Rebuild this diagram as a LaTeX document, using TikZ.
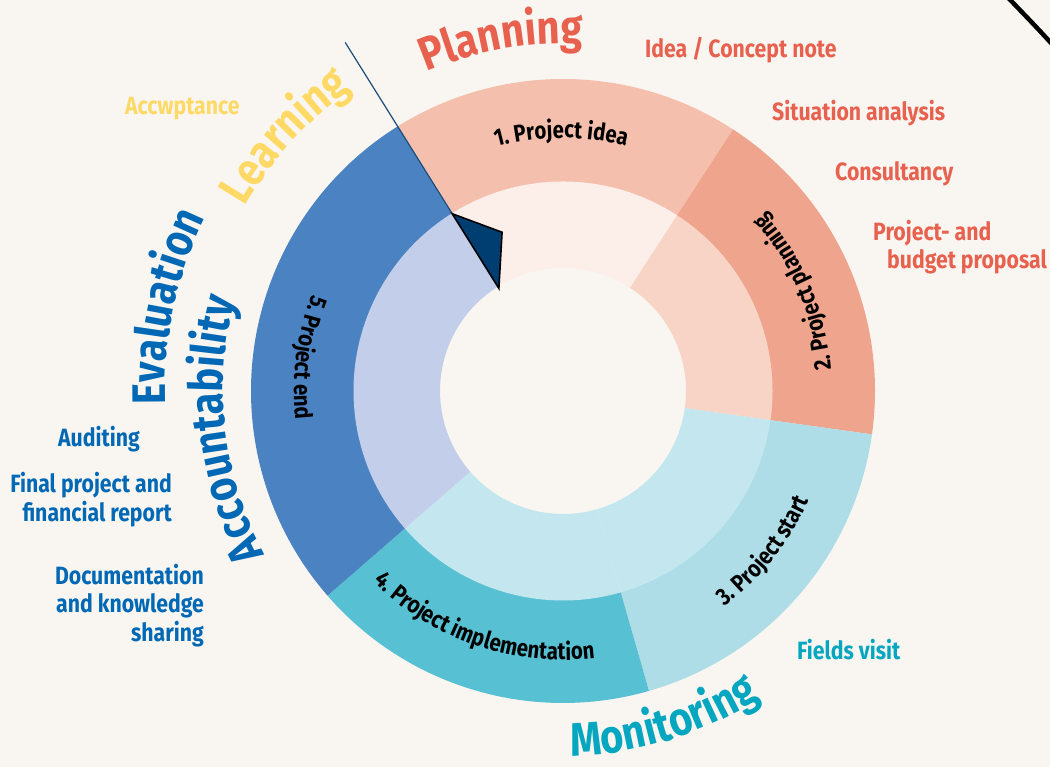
\documentclass[tikz,border=0pt]{standalone}
\usepackage{fontspec}
\setmainfont{Fira Sans}[FakeStretch=0.85]
\usetikzlibrary{decorations.text}
\definecolor{bg}{HTML}{F9F6F1}
\definecolor{oneO}{HTML}{F4C0AD}
\definecolor{oneI}{HTML}{FCEEE9}
\definecolor{twoO}{HTML}{EFA58D}
\definecolor{twoI}{HTML}{F8D4C6}
\definecolor{threeO}{HTML}{AEDDE7}
\definecolor{threeI}{HTML}{C4E6EE}
\definecolor{fourO}{HTML}{57C1D3}
\definecolor{fourI}{HTML}{C4E6EE}
\definecolor{fiveO}{HTML}{4B83C2}
\definecolor{fiveI}{HTML}{C2CEEA}
\definecolor{plancol}{HTML}{E8614F}
\definecolor{learncol}{HTML}{FFD966}
\definecolor{evalcol}{HTML}{0068B5}
\definecolor{moncol}{HTML}{04A6C0}
\definecolor{navy}{HTML}{003E72}
\definecolor{linecol}{HTML}{1A4D7C}
\newcommand\ringseg[5]{%
  \fill[#1] (#2:#4) arc[start angle=#2,end angle=#3,radius=#4] -- (#3:#5) arc[start angle=#3,end angle=#2,radius=#5] -- cycle;}
\newcommand\arctext[5]{%
  \path[decorate,decoration={text along path,text align=center,text={|#4|#5}}] (#2:#1) arc[start angle=#2,end angle=#3,radius=#1];}
\newcommand\segf{\color{black}\bfseries\fontsize{24}{28}\selectfont}
\newcommand\bigf{\bfseries\fontsize{47}{56}\selectfont}
\begin{document}
\begin{tikzpicture}[x=1pt,y=1pt,
  sublab/.style={inner sep=0pt,font=\bfseries\fontsize{25}{27.5}\selectfont},
  planlab/.style={sublab,text=plancol},
  learnlab/.style={sublab,text=learncol},
  evallab/.style={sublab,text=evalcol},
  monlab/.style={sublab,text=moncol}]
\fill[bg] (0,0) rectangle (1050,767);
\useasboundingbox (0,0) rectangle (1050,767);
\begin{scope}[shift={(563,376)}]
  % outer ring
  \ringseg{oneO}{57}{122}{209pt}{312pt}
  \ringseg{twoO}{-8}{57}{209pt}{312pt}
  \ringseg{threeO}{-74}{-8}{209pt}{312pt}
  \ringseg{fourO}{-139}{-74}{209pt}{312pt}
  \ringseg{fiveO}{122}{221}{209pt}{312pt}
  % middle ring
  \ringseg{oneI}{57}{122}{123pt}{209.5pt}
  \ringseg{twoI}{-8}{57}{123pt}{209.5pt}
  \ringseg{threeI}{-74}{-8}{123pt}{209.5pt}
  \ringseg{fourI}{-139}{-74}{123pt}{209.5pt}
  \ringseg{fiveI}{122}{221}{123pt}{209.5pt}
  % segment labels
  \arctext{253pt}{125.4}{55.4}{\segf}{1. Project idea}
  \arctext{269pt}{-12.5}{58.5}{\segf}{2. Project planning}
  \arctext{269pt}{-70}{-7}{\segf}{3. Project start}
  \arctext{269pt}{-149}{-69}{\segf}{4. Project implementation}
  \arctext{269pt}{122.5}{222.5}{\segf}{5. Project end}
  % phase labels
  \arctext{347pt}{130}{70}{\color{plancol}\bigf}{Planning}
  \arctext{368pt}{167.5}{107.5}{\color{learncol}\bigf}{Learning}
  \arctext{398pt}{198}{138}{\color{evalcol}\bigf}{Evaluation}
  \arctext{340pt}{226.5}{146.5}{\color{evalcol}\bigf}{Accountability}
  \arctext{365pt}{-103}{-43}{\color{moncol}\bigf}{Monitoring}
  % pointer
  \coordinate (ptip) at (122:209pt);
  \coordinate (pside) at (111:170pt);
  \coordinate (pbase) at (122:121pt);
  \coordinate (ptail) at (122:411pt);
  \draw[linecol,line width=1.2pt] (ptail) -- (ptip);
  \filldraw[fill=navy,draw=black,line width=1.6pt,line join=miter] (ptip) -- (pside) -- (pbase) -- cycle;
\end{scope}
% item labels
\node[planlab,anchor=base west] (idea) at (645,709) {Idea / Concept note};
\node[planlab,anchor=base west] (situation) at (772,646) {Situation analysis};
\node[planlab,anchor=base west] (consult) at (835,586) {Consultancy};
\node[planlab,anchor=base west] (proposal) at (873,526) {\begin{tabular}[t]{@{}l@{}}Project- and\\\hspace*{14pt}budget proposal\end{tabular}};
\node[learnlab,anchor=base west] (accept) at (125,652) {Accwptance};
\node[evallab,anchor=base west] (audit) at (58,320) {Auditing};
\node[evallab,anchor=base east] (final) at (172,274) {\begin{tabular}[t]{@{}r@{}}Final project and\\financial report\end{tabular}};
\node[evallab,anchor=base east] (docu) at (204,182) {\begin{tabular}[t]{@{}r@{}}Documentation\\and knowledge\\sharing\end{tabular}};
\node[monlab,anchor=base west] (fields) at (797,107) {Fields visit};
% corner arc
\begin{scope}
  \clip (0,0) rectangle (1050,767);
  \draw[black,line width=4.5pt] (988,790) .. controls (1013,764) and (1040,737) .. (1068,705);
\end{scope}
\end{tikzpicture}
\end{document}
